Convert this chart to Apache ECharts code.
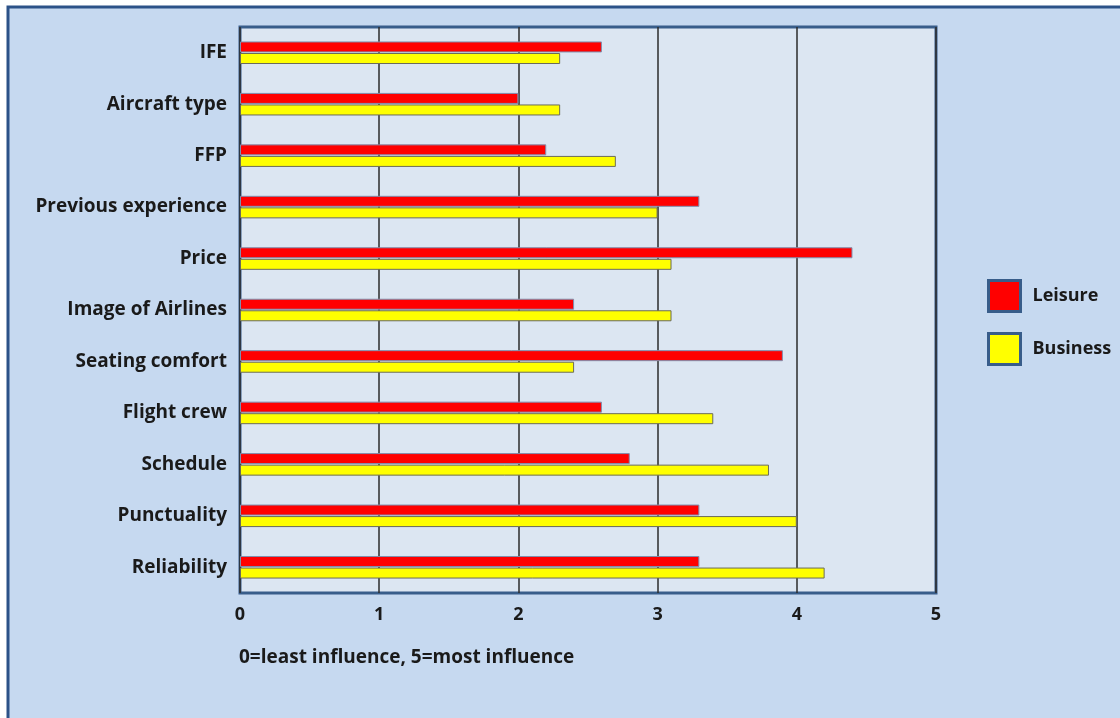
<!DOCTYPE html>
<html>
<head>
<meta charset="utf-8">
<style>
  html, body { margin: 0; padding: 0; background: #ffffff; }
  #chart { width: 1120px; height: 718px; }
</style>
<script src="https://cdn.jsdelivr.net/npm/echarts@6/dist/echarts.min.js"></script>
</head>
<body>
<div id="chart"></div>
<script>
// Factors influencing airline choice, listed top to bottom
const categories = [
  'IFE', 'Aircraft type', 'FFP', 'Previous experience', 'Price',
  'Image of Airlines', 'Seating comfort', 'Flight crew', 'Schedule',
  'Punctuality', 'Reliability'
];
const leisure  = [2.6, 2.0, 2.2, 3.3, 4.4, 2.4, 3.9, 2.6, 2.8, 3.3, 3.3];
const business = [2.3, 2.3, 2.7, 3.0, 3.1, 3.1, 2.4, 3.4, 3.8, 4.0, 4.2];
const xTicks = [0, 1, 2, 3, 4, 5];
const note = '0=least influence, 5=most influence';

const FONT = '"Open Sans", "Liberation Sans", sans-serif';
const chart = echarts.init(document.getElementById('chart'));

chart.setOption({
  backgroundColor: '#ffffff',
  animation: false,
  graphic: [
    {
      type: 'rect', z: -10,
      shape: { x: 8, y: 7, width: 1200, height: 740 },
      style: { fill: '#c6d9f0', stroke: '#2c5288', lineWidth: 3 }
    },
    {
      type: 'text', left: 239, top: 648, z: 10,
      style: { text: note, font: 'bold 19px ' + FONT, fill: '#1a1a1a' }
    }
  ],
  grid: {
    left: 240, right: 184, top: 27, bottom: 125,
    show: true, backgroundColor: '#dce6f2',
    borderColor: '#385d8a', borderWidth: 3
  },
  legend: {
    orient: 'vertical', left: 982, top: 274,
    itemWidth: 32, itemHeight: 31, itemGap: 19,
    icon: 'rect',
    itemStyle: { borderColor: '#385d8a', borderWidth: 3 },
    textStyle: { fontFamily: FONT, fontWeight: 'bold', fontSize: 18, color: '#1a1a1a', padding: [0, 0, 10, 7] },
    data: ['Leisure', 'Business']
  },
  xAxis: {
    type: 'value', min: xTicks[0], max: xTicks[xTicks.length - 1], interval: 1,
    axisLine: { show: false },
    axisTick: { show: false },
    splitLine: { show: true, lineStyle: { color: '#2b2b2b', width: 1.5 } },
    axisLabel: {
      margin: 13, fontFamily: FONT, fontWeight: 'bold', fontSize: 18, color: '#1a1a1a',
      formatter: v => xTicks.includes(v) ? String(v) : ''
    }
  },
  yAxis: {
    type: 'category', inverse: true, data: categories,
    axisLine: { show: false },
    axisTick: { show: false },
    axisLabel: {
      margin: 13, fontFamily: FONT, fontWeight: 'bold', fontSize: 19, color: '#1a1a1a'
    }
  },
  series: [
    {
      name: 'Leisure', type: 'bar', data: leisure,
      barWidth: 11, barGap: '5%',
      itemStyle: { color: '#ff0000', borderColor: '#7f8fae', borderWidth: 1 }
    },
    {
      name: 'Business', type: 'bar', data: business,
      barWidth: 11, barGap: '5%',
      itemStyle: { color: '#ffff00', borderColor: '#6b6b5a', borderWidth: 1 }
    }
  ]
});
</script>
</body>
</html>
